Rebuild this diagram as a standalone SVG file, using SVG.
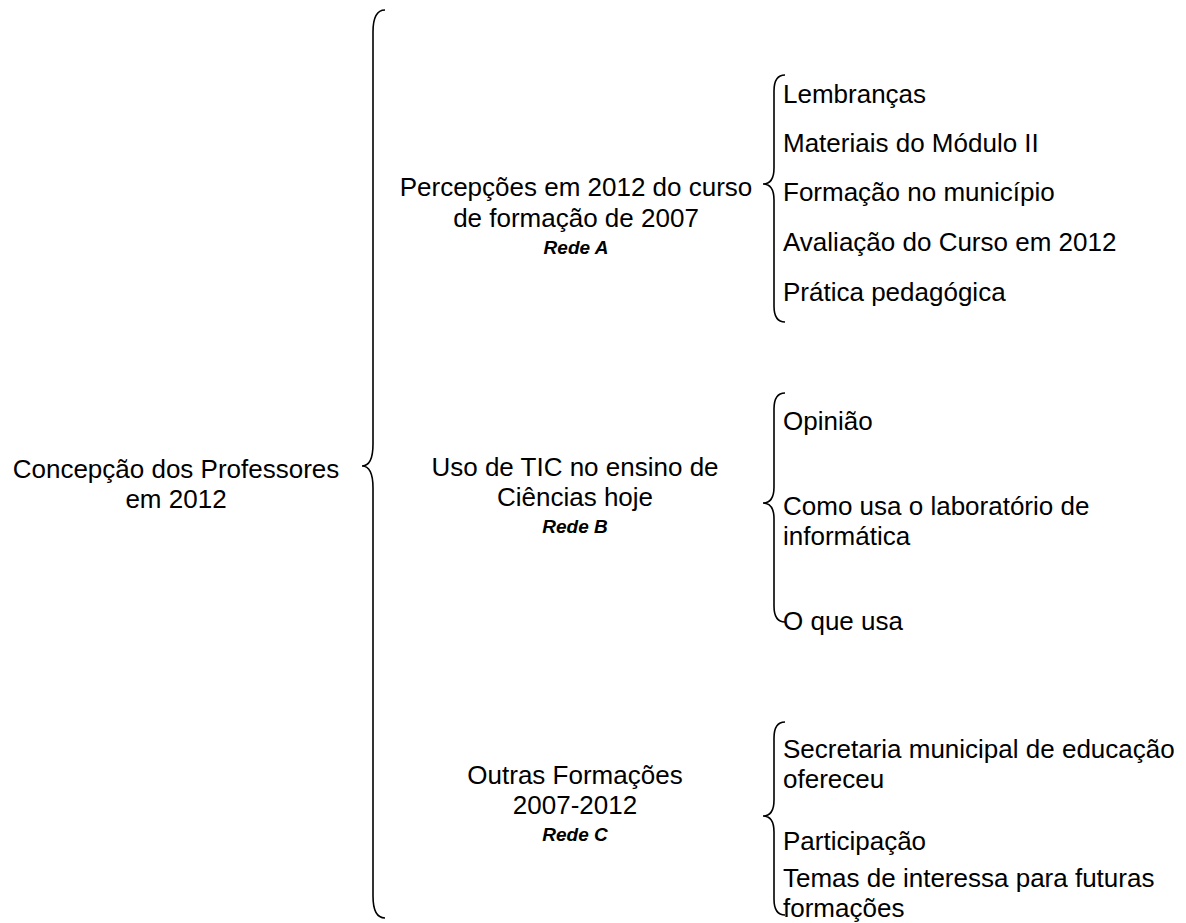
<svg xmlns="http://www.w3.org/2000/svg" width="1186" height="923" viewBox="0 0 1186 923">
<style>
text{font-family:"Liberation Sans",Arial,sans-serif;font-size:26px;fill:#000}
.c{text-anchor:middle}
.r{font-weight:bold;font-style:italic;font-size:19px}
.b{fill:none;stroke:#000;stroke-width:1.6}
</style>
<rect width="1186" height="923" fill="#fff"/>
<g id="connectors">
<path class="b" d="M385 10 Q373 10 373 32 L373 444 Q373 466 362 466 Q373 466 373 488 L373 896 Q373 918 385 918"/>
<path class="b" d="M785 75 Q774 75 774 91 L774 168 Q774 184 763 184 Q774 184 774 200 L774 306 Q774 322 785 322"/>
<path class="b" d="M785 393 Q774 393 774 409 L774 487 Q774 503 763 503 Q774 503 774 519 L774 606 Q774 622 785 622"/>
<path class="b" d="M785 722 Q774 722 774 738 L774 800 Q774 816 763 816 Q774 816 774 832 L774 899 Q774 915 785 915"/>
</g>
<g id="root"><text class="c" x="176" y="478">Concepção dos Professores</text><text class="c" x="176" y="508">em 2012</text></g>
<g id="nodeA"><text class="c" x="576" y="196">Percepções em 2012 do curso</text><text class="c" x="576" y="227">de formação de 2007</text><text class="c r" x="576" y="254">Rede A</text></g>
<g id="nodeB"><text class="c" x="575" y="476">Uso de TIC no ensino de</text><text class="c" x="575" y="506">Ciências hoje</text><text class="c r" x="575" y="533">Rede B</text></g>
<g id="nodeC"><text class="c" x="575" y="784">Outras Formações</text><text class="c" x="575" y="814">2007-2012</text><text class="c r" x="575" y="841">Rede C</text></g>
<g id="itemsA">
<text x="783" y="103">Lembranças</text>
<text x="783" y="152">Materiais do Módulo II</text>
<text x="783" y="201">Formação no município</text>
<text x="783" y="251">Avaliação do Curso em 2012</text>
<text x="783" y="301">Prática pedagógica</text>
</g>
<g id="itemsB">
<text x="783" y="430">Opinião</text>
<text x="783" y="515">Como usa o laboratório de</text>
<text x="783" y="545">informática</text>
<text x="783" y="630">O que usa</text>
</g>
<g id="itemsC">
<text x="783" y="758">Secretaria municipal de educação</text>
<text x="783" y="788">ofereceu</text>
<text x="783" y="850">Participação</text>
<text x="783" y="887">Temas de interessa para futuras</text>
<text x="783" y="917">formações</text>
</g>
</svg>
